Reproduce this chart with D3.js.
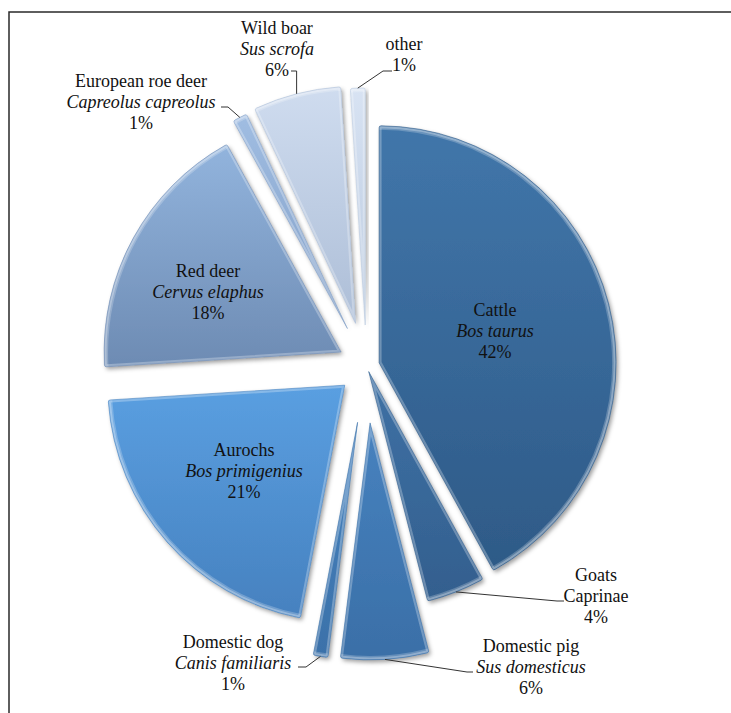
<!DOCTYPE html>
<html>
<head>
<meta charset="utf-8">
<script src="https://cdn.jsdelivr.net/npm/d3@7"></script>
<style>
  html, body { margin: 0; padding: 0; background: #fff; }
  svg { display: block; }
  text { font-family: "Liberation Serif", "Times New Roman", serif; font-size: 18px; fill: #111; }
</style>
</head>
<body>
<svg id="chart" width="731" height="713"></svg>
<script>
// ---- data ----
const categories = ["Cattle", "Goats", "Domestic pig", "Domestic dog", "Aurochs", "Red deer", "European roe deer", "Wild boar", "other"];
const latinNames = ["Bos taurus", "Caprinae", "Sus domesticus", "Canis familiaris", "Bos primigenius", "Cervus elaphus", "Capreolus capreolus", "Sus scrofa", ""];
const latinItalic = [true, false, true, true, true, true, true, true, false];
const values = [42, 4, 6, 1, 21, 18, 1, 6, 1];
const percentLabels = ["42%", "4%", "6%", "1%", "21%", "18%", "1%", "6%", "1%"];

// ---- styles / layout ----
const topColors = ["#4176aa", "#3e71a5", "#4782bf", "#4884c1", "#5a9fe1", "#92b4dd", "#a0bde2", "#cfdcef", "#d8e3f3"];
const botColors = ["#2e5a87", "#335f8e", "#3a6fa7", "#3b71a9", "#4681bf", "#6d8bb3", "#819ec6", "#adbed7", "#b9c9df"];
const explode = [13, 6, 57, 57, 29, 29, 42, 44, 41];
const center = [366.5, 366];
const radius = 237;
// label anchor (center x, first baseline y); leader elbow and end
const labelPos = [[495, 316], [596, 581], [531, 652], [233, 648], [244, 456], [208, 277], [141, 87], [277, 34], [404, 50]];
const leaderElbow = [null, [557, 601], [467, 672], [306, 667], null, null, [228, 107], [null, 71], [383, 71]];
const leaderEnd = [null, [564, 601], [473, 672], [298, 667], null, null, [221, 107], [291, 71], [392, 71]];
const lineGap = 21;

const svg = d3.select("#chart");
const defs = svg.append("defs");

const shadow = defs.append("filter").attr("id", "shadow")
  .attr("x", "-20%").attr("y", "-20%").attr("width", "140%").attr("height", "140%");
shadow.append("feDropShadow").attr("dx", 2).attr("dy", 2.5).attr("stdDeviation", 2.2)
  .attr("flood-color", "#000").attr("flood-opacity", 0.38);

categories.forEach((c, i) => {
  const g = defs.append("linearGradient").attr("id", "grad" + i)
    .attr("x1", 0).attr("y1", 0).attr("x2", 0).attr("y2", 1);
  g.append("stop").attr("offset", "0%").attr("stop-color", topColors[i]);
  g.append("stop").attr("offset", "100%").attr("stop-color", botColors[i]);
});

// frame
svg.append("path").attr("d", "M9,713 V12 H731")
  .attr("fill", "none").attr("stroke", "#2a2a2a").attr("stroke-width", 1.5);

const pie = d3.pie().value(d => d).sort(null).startAngle(0).endAngle(2 * Math.PI);
const arcs = pie(values);
const arc = d3.arc().innerRadius(0).outerRadius(radius).cornerRadius(2);
const rimArc = d3.arc().innerRadius(radius - 4).outerRadius(radius - 0.5);

function offsetOf(d, i) {
  const m = (d.startAngle + d.endAngle) / 2;
  return [center[0] + explode[i] * Math.sin(m), center[1] - explode[i] * Math.cos(m)];
}

const slices = svg.append("g").selectAll("g.slice").data(arcs).join("g")
  .attr("class", "slice")
  .attr("transform", (d, i) => { const o = offsetOf(d, i); return `translate(${o[0]},${o[1]})`; });

slices.each(function(d, i) {
  const g = d3.select(this);
  const cid = "clip" + i;
  defs.append("clipPath").attr("id", cid).append("path").attr("d", arc(d));
  g.append("path").attr("d", arc(d)).attr("fill", `url(#grad${i})`).attr("filter", "url(#shadow)");
  // bevel: inner highlight on edges
  g.append("path").attr("d", arc(d)).attr("fill", "none")
    .attr("stroke", "#ffffff").attr("stroke-opacity", 0.28).attr("stroke-width", 5)
    .attr("clip-path", `url(#${cid})`);
  // brighter rim along the outer arc
  g.append("path").attr("d", rimArc(d)).attr("fill", "#ffffff").attr("fill-opacity", 0.22)
    .attr("clip-path", `url(#${cid})`);
  g.append("path").attr("d", arc(d)).attr("fill", "none")
    .attr("stroke", botColors[i]).attr("stroke-opacity", 0.7).attr("stroke-width", 0.8);
});

// leader lines
arcs.forEach((d, i) => {
  if (!leaderEnd[i]) return;
  const o = offsetOf(d, i);
  const m = (d.startAngle + d.endAngle) / 2;
  const p = [o[0] + radius * Math.sin(m), o[1] - radius * Math.cos(m)];
  const el = leaderElbow[i];
  const elbow = [el[0] === null ? p[0] : el[0], el[1]];
  svg.append("path")
    .attr("d", d3.line()([p, elbow, leaderEnd[i]]))
    .attr("fill", "none").attr("stroke", "#333").attr("stroke-width", 1);
});

// labels
const labels = svg.append("g");
categories.forEach((c, i) => {
  const [x, y] = labelPos[i];
  const lines = [{ t: c, it: false }];
  if (latinNames[i]) lines.push({ t: latinNames[i], it: latinItalic[i] });
  lines.push({ t: percentLabels[i], it: false });
  const t = labels.append("text").attr("text-anchor", "middle");
  lines.forEach((l, k) => {
    t.append("tspan").attr("x", x).attr("y", y + k * lineGap)
      .attr("font-style", l.it ? "italic" : "normal").text(l.t);
  });
});
</script>
</body>
</html>
